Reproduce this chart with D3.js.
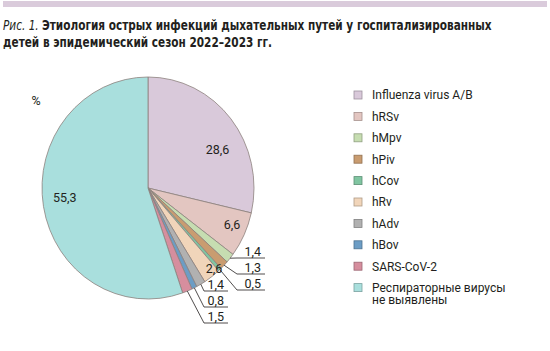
<!DOCTYPE html>
<html>
<head>
<meta charset="utf-8">
<script src="https://cdn.jsdelivr.net/npm/d3@7"></script>
<style>
  body { margin: 0; background: #fff; }
  svg { display: block; }
</style>
</head>
<body>
<div class="canvas"></div>
<script>
// data (percent of hospitalised children)
const categories = ['Influenza virus A/B', 'hRSv', 'hMpv', 'hPiv', 'hCov', 'hRv', 'hAdv', 'hBov', 'SARS-CoV-2', 'Респираторные вирусы\nне выявлены'];
const shares = [28.6, 6.6, 1.4, 1.3, 0.5, 2.6, 1.4, 0.8, 1.5, 55.3];
const colors = ['#d9c9da', '#e3c6c1', '#c6ddb1', '#c99c70', '#80c5a1', '#f1d5ba', '#b1b1b1', '#6c9dc5', '#d68e9e', '#a9dfdd'];
const titleLines = ['Этиология острых инфекций дыхательных путей у госпитализированных', 'детей в эпидемический сезон 2022–2023 гг.'];

const width = 550, height = 351;
const ink = '#231f20';
const fmt = v => v.toFixed(1).replace('.', ',');

const svg = d3.select('.canvas')
	.append('svg')
	.attr('width', width)
	.attr('height', height);

// thin band on top of the page
svg.append('rect')
	.attr('x', 3).attr('y', 1)
	.attr('width', 544).attr('height', 6)
	.attr('fill', '#dacbdb');

// title, squeezed to the width of the original condensed face
const title = svg.append('g')
	.attr('font-family', '"DejaVu Sans Condensed", "DejaVu Sans", sans-serif')
	.attr('font-size', 14)
	.attr('fill', ink);

const fig = title.append('text').attr('font-style', 'italic').text('Рис. 1.');
const head1 = title.append('text').attr('font-weight', 'bold').text(titleLines[0]);
const head2 = title.append('text').attr('font-weight', 'bold').text(titleLines[1]);

const figW = fig.node().getComputedTextLength() + 4;
const k = 489 / (figW + head1.node().getComputedTextLength());
fig.attr('transform', `translate(3,30) scale(${k},1)`);
head1.attr('transform', `translate(${3 + figW * k},30) scale(${k},1)`);
head2.attr('transform', `translate(3,47) scale(${k},1)`);

// pie (slightly taller than wide, as in the original)
const cx = 148, cy = 188, rx = 106, ry = 111;
const data = categories.map((c, i) => ({ name: c, value: shares[i], color: colors[i] }));

const pie = d3.pie().sort(null).value(d => d.value);
const arcs = pie(data);
const arc = d3.arc().innerRadius(0).outerRadius(rx);

const pieGroup = svg.append('g')
	.attr('transform', `translate(${cx},${cy}) scale(1,${ry / rx})`);

pieGroup.selectAll('path')
	.data(arcs)
	.join('path')
	.attr('d', arc)
	.attr('fill', d => d.data.color)
	.attr('stroke', '#8d827e')
	.attr('stroke-width', 0.8)
	.attr('vector-effect', 'non-scaling-stroke');

// point on the (elliptic) pie for an angle and a radius fraction
const pt = (a, f) => [cx + rx * f * Math.sin(a), cy - ry * f * Math.cos(a)];
const mid = d => (d.startAngle + d.endAngle) / 2;

// labels inside slices: [radius fraction, angle nudge in degrees]
const insideLabels = {
	'Influenza virus A/B': [0.74, 11],
	'hRSv': [0.86, -2],
	'hRv': [0.96, -3.4],
	'Респираторные вирусы\nне выявлены': [0.79, 3]
};

const labels = svg.append('g')
	.attr('font-family', 'Roboto, sans-serif')
	.attr('font-size', 12.5)
	.attr('fill', ink);

arcs.filter(d => insideLabels[d.data.name]).forEach(d => {
	const [f, nudge] = insideLabels[d.data.name];
	const [x, y] = pt(mid(d) + nudge * Math.PI / 180, f);
	labels.append('text')
		.attr('x', x).attr('y', y)
		.attr('text-anchor', 'middle')
		.attr('dy', '0.35em')
		.text(fmt(d.data.value));
});

// small slices get leader lines to stacked, underlined labels
const outerColumns = [
	{ members: ['hMpv', 'hPiv', 'hCov'], x0: 237, x1: 265, y0: 258 },
	{ members: ['hAdv', 'hBov', 'SARS-CoV-2'], x0: 204, x1: 228, y0: 291 }
];
const step = 16;

outerColumns.forEach(col => {
	col.members.forEach((name, j) => {
		const d = arcs.find(a => a.data.name === name);
		const [ex, ey] = pt(mid(d), 1);
		const y = col.y0 + j * step;
		svg.append('path')
			.attr('d', `M${ex},${ey}L${col.x0},${y}H${col.x1}`)
			.attr('fill', 'none')
			.attr('stroke', ink)
			.attr('stroke-width', 0.8);
		labels.append('text')
			.attr('x', col.x1 - 4)
			.attr('y', y - 2.5)
			.attr('text-anchor', 'end')
			.text(fmt(d.data.value));
	});
});

labels.append('text')
	.attr('x', 36).attr('y', 101)
	.attr('text-anchor', 'middle')
	.attr('dy', '0.35em')
	.text('%');

// legend
const legend = svg.append('g')
	.attr('transform', 'translate(354,95)')
	.attr('font-family', 'Roboto, sans-serif')
	.attr('font-size', 12)
	.attr('fill', ink);

const rowH = 21.4, box = 8;
const items = legend.selectAll('g')
	.data(data)
	.join('g')
	.attr('transform', (d, i) => `translate(0,${i * rowH})`);

items.append('rect')
	.attr('x', 0).attr('y', -box / 2)
	.attr('width', box).attr('height', box)
	.attr('fill', d => d.color)
	.attr('stroke', d => d3.color(d.color).darker(0.9))
	.attr('stroke-width', 0.8);

items.append('text')
	.attr('x', 18)
	.attr('y', 4.3)
	.selectAll('tspan')
	.data(d => d.name.split('\n'))
	.join('tspan')
	.attr('x', 18)
	.attr('dy', (d, i) => i ? 12.5 : 0)
	.text(d => d);
</script>
</body>
</html>
